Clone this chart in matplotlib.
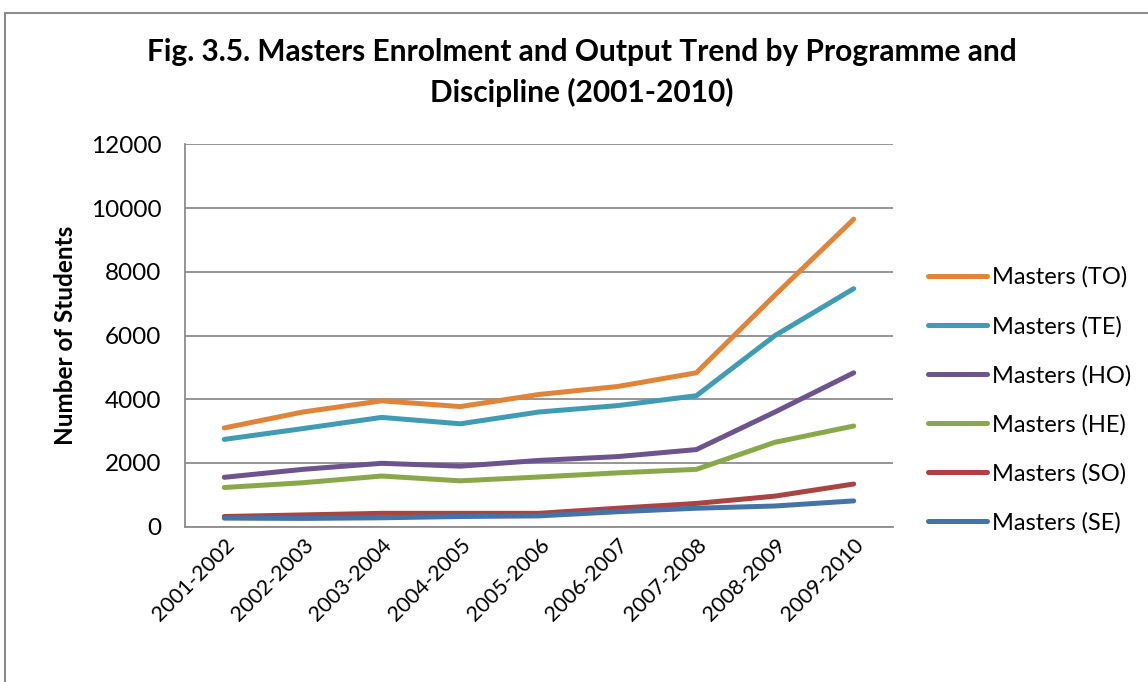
''' Masters enrolment and output trend '''

import numpy as np
import matplotlib.pyplot as plt
from matplotlib.patches import Rectangle

### données

annees = ['2001-2002', '2002-2003', '2003-2004', '2004-2005', '2005-2006',
          '2006-2007', '2007-2008', '2008-2009', '2009-2010']

masters_to = [3100, 3600, 3950, 3770, 4150, 4400, 4830, 7270, 9650]
masters_te = [2740, 3080, 3430, 3230, 3600, 3800, 4110, 6000, 7470]
masters_ho = [1550, 1800, 1990, 1900, 2080, 2200, 2420, 3600, 4830]
masters_he = [1230, 1380, 1590, 1440, 1560, 1690, 1800, 2650, 3160]
masters_so = [320, 370, 420, 420, 420, 580, 730, 960, 1340]
masters_se = [270, 260, 280, 320, 340, 470, 580, 650, 810]

series = [('Masters (TO)', masters_to, '#E0843A'),
          ('Masters (TE)', masters_te, '#409BB4'),
          ('Masters (HO)', masters_ho, '#6D548F'),
          ('Masters (HE)', masters_he, '#89A84A'),
          ('Masters (SO)', masters_so, '#A84442'),
          ('Masters (SE)', masters_se, '#4573A8')]

### tracé

plt.rcParams['font.family'] = ['Lato', 'DejaVu Sans']

fig = plt.figure(figsize=(11.48, 6.82), dpi=100)
ax = fig.add_axes([0.1611, 0.2277, 0.6168, 0.5607])

x = np.arange(len(annees))
for nom, valeurs, couleur in series:
    ax.plot(x, valeurs, color=couleur, lw=3.6, label=nom,
            solid_capstyle='round', solid_joinstyle='round')

ax.set_xlim(-0.5, len(annees) - 0.5)
ax.set_ylim(0, 12000)
ax.set_yticks(range(0, 12001, 2000))
ax.yaxis.grid(True, color='#8C8C8C', lw=1.3)
ax.set_axisbelow(True)
ax.tick_params(axis='y', length=0, labelsize=17.5, pad=17)
ax.tick_params(axis='x', length=0, labelsize=15.5, pad=6)
ax.set_xticks(x)
ax.set_xticklabels(annees, rotation=45, ha='right', rotation_mode='anchor')
for s in ['top', 'right']:
    ax.spines[s].set_visible(False)
ax.spines['left'].set_color('#8C8C8C')
ax.spines['bottom'].set_color('#8C8C8C')
ax.spines['left'].set_linewidth(1.3)
ax.spines['bottom'].set_linewidth(1.3)

ax.set_ylabel('Number of Students', fontsize=17.5, fontweight='bold', labelpad=10)

fig.text(0.507, 0.924, 'Fig. 3.5. Masters Enrolment and Output Trend by Programme and',
         ha='center', va='center', fontsize=21.5, fontweight='bold')
fig.text(0.507, 0.864, 'Discipline (2001-2010)',
         ha='center', va='center', fontsize=21.5, fontweight='bold')

ax.legend(loc='center left', bbox_to_anchor=(1.02, 0.331), frameon=False,
          fontsize=17, handlelength=2.5, handletextpad=0.2, labelspacing=1.17)

fig.patches.append(Rectangle((0.0045, -0.05), 1.2, 1.031, transform=fig.transFigure,
                             fill=False, edgecolor='#8C8C8C', lw=1.5))

plt.savefig('out.png', dpi=100)
